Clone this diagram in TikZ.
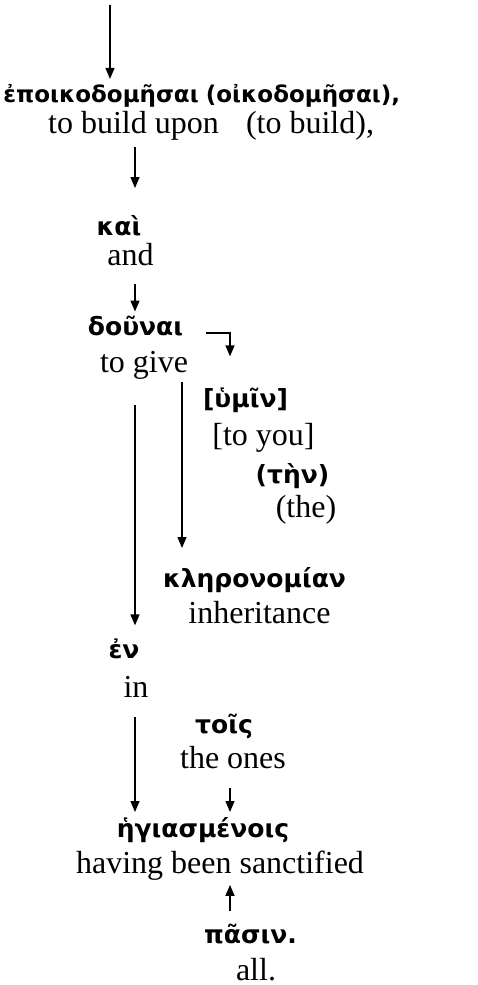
\documentclass[tikz,border=0pt]{standalone}
\usepackage{fontspec}
\setmainfont{Liberation Serif}
\newfontfamily\gkfont{DejaVu Sans}
\usetikzlibrary{arrows.meta}

\begin{document}
\begin{tikzpicture}[x=1pt,y=-1pt]
  \tikzset{gk/.style={inner sep=0pt, outer sep=0pt, anchor=base, font=\gkfont\bfseries\fontsize{25}{30}\selectfont}}
  \tikzset{en/.style={inner sep=0pt, outer sep=0pt, anchor=base, font=\fontsize{32}{36}\selectfont}}
  \tikzset{arr/.style={line width=1.4pt, -{Triangle[length=11pt,width=9pt]}}}

\useasboundingbox (0,0) rectangle (477,985);
\coordinate (top) at (110,5);
\coordinate (c1) at (135,0);
\coordinate (c2) at (182,0);
\coordinate (c3) at (230,0);

   \node[gk, font=\gkfont\bfseries\fontsize{23}{27}\selectfont] (epoik) at (101,102) {ἐποικοδομῆσαι};
   \node[gk, font=\gkfont\bfseries\fontsize{23}{27}\selectfont] (oikod) at (303,102) {(οἰκοδομῆσαι),};
   \node[en] (upon)  at (133.5,133) {to build upon};
   \node[en] (build) at (310,133) {(to build),};
   \node[gk] (kai)   at (119,235) {καὶ};
   \node[en] (and)   at (130.5,265) {and};
   \node[gk] (douna) at (135.5,335) {δοῦναι};
   \node[en] (give)  at (144,372) {to give};
   \node[gk] (hymin) at (245.5,407) {[ὑμῖν]};
   \node[en] (toyou) at (263.5,445) {[to you]};
   \node[gk] (ten)   at (292.5,483) {(τὴν)};
   \node[en] (the)   at (306,517) {(the)};
   \node[gk] (kler)  at (254.5,587) {κληρονομίαν};
   \node[en] (inher) at (259.5,623) {inheritance};
   \node[gk] (en)    at (124,658) {ἐν};
   \node[en] (in)    at (136,697) {in};
   \node[gk] (tois)  at (224,733) {τοῖς};
   \node[en] (ones)  at (233,768) {the ones};
   \node[gk] (hegi)  at (203,837) {ἡγιασμένοις};
   \node[en] (sanct) at (220,873) {having been sanctified};
   \node[gk] (pasin) at (250.5,943) {πᾶσιν.};
   \node[en] (all)   at (256,980) {all.};

   \draw[arr, shorten >=5pt] (top) -- (epoik.north -| top);
   \draw[arr, shorten <=7pt, shorten >=27pt] (upon.south -| c1) -- (kai.north -| c1);
   \draw[arr, shorten <=19pt, shorten >=4pt] (and.south -| c1) -- (douna.north -| c1);
   \draw[arr, shorten >=31pt] ([xshift=23pt,yshift=2pt]douna.base east) -| (hymin.north -| c3);
   \draw[arr, shorten <=3pt, shorten >=19pt] (give.south -| c2) -- (kler.north -| c2);
   \draw[arr, shorten <=26pt, shorten >=13pt] (give.south -| c1) -- (en.north -| c1);
   \draw[arr, shorten <=20pt, shorten >=5pt] (in.south -| c1) -- (hegi.north -| c1);
   \draw[arr, shorten <=20pt, shorten >=5pt] (ones.south -| c3) -- (hegi.north -| c3);
   \draw[arr, shorten <=13pt, shorten >=5pt] (pasin.north -| c3) -- (sanct.south -| c3);
\end{tikzpicture}
\end{document}
